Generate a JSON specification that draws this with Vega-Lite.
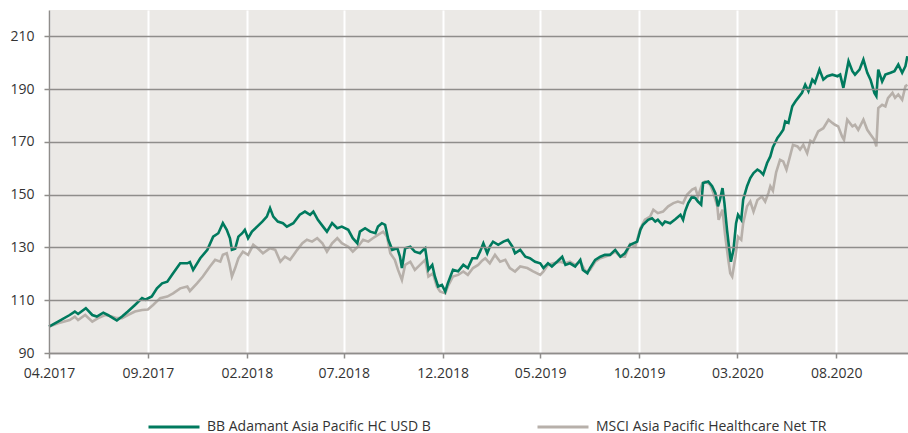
{
  "$schema": "https://vega.github.io/schema/vega-lite/v6.json",
  "width": 859,
  "height": 343,
  "autosize": {"type": "none"},
  "padding": {"left": 49, "top": 10, "right": 0, "bottom": 80},
  "background": "#ffffff",
  "config": {
    "view": {"fill": "#ebe9e6", "stroke": null},
    "font": "Open Sans",
    "axis": {"labelFont": "Open Sans", "labelFontSize": 14, "labelColor": "#333333", "title": null}
  },
  "datasets": {
    "fund": [
      {"d":"2017-04-01","v":100},{"d":"2017-04-15","v":101.9},{"d":"2017-05-03","v":104.4},{"d":"2017-05-11","v":105.7},{"d":"2017-05-16","v":104.8},{"d":"2017-05-28","v":107.0},{"d":"2017-06-07","v":104.4},{"d":"2017-06-14","v":103.8},{"d":"2017-06-24","v":105.3},{"d":"2017-07-01","v":104.4},{"d":"2017-07-09","v":103.2},{"d":"2017-07-15","v":102.3},{"d":"2017-07-23","v":103.8},{"d":"2017-08-01","v":105.7},{"d":"2017-08-12","v":108.2},{"d":"2017-08-23","v":110.8},{"d":"2017-08-28","v":110.2},{"d":"2017-09-07","v":111.4},{"d":"2017-09-15","v":114.5},{"d":"2017-09-23","v":116.4},{"d":"2017-10-01","v":117.0},{"d":"2017-10-10","v":120.2},{"d":"2017-10-21","v":124.0},{"d":"2017-11-01","v":124.0},{"d":"2017-11-05","v":124.5},{"d":"2017-11-10","v":121.5},{"d":"2017-11-21","v":125.9},{"d":"2017-12-02","v":129.1},{"d":"2017-12-11","v":134.1},{"d":"2017-12-19","v":135.4},{"d":"2017-12-26","v":139.2},{"d":"2018-01-01","v":136.7},{"d":"2018-01-06","v":133.5},{"d":"2018-01-09","v":129.1},{"d":"2018-01-14","v":129.5},{"d":"2018-01-19","v":134.1},{"d":"2018-01-25","v":135.4},{"d":"2018-01-29","v":136.7},{"d":"2018-02-03","v":133.5},{"d":"2018-02-09","v":136.0},{"d":"2018-02-17","v":137.9},{"d":"2018-02-25","v":139.8},{"d":"2018-03-04","v":141.7},{"d":"2018-03-09","v":144.9},{"d":"2018-03-14","v":141.7},{"d":"2018-03-21","v":139.8},{"d":"2018-03-29","v":139.2},{"d":"2018-04-04","v":137.9},{"d":"2018-04-14","v":139.2},{"d":"2018-04-24","v":142.4},{"d":"2018-05-02","v":143.6},{"d":"2018-05-10","v":142.4},{"d":"2018-05-15","v":143.6},{"d":"2018-05-22","v":140.5},{"d":"2018-05-30","v":137.9},{"d":"2018-06-05","v":136.0},{"d":"2018-06-13","v":139.2},{"d":"2018-06-21","v":137.3},{"d":"2018-06-28","v":137.9},{"d":"2018-07-08","v":136.7},{"d":"2018-07-15","v":133.5},{"d":"2018-07-22","v":131.6},{"d":"2018-07-26","v":136.0},{"d":"2018-08-03","v":137.3},{"d":"2018-08-11","v":136.0},{"d":"2018-08-19","v":135.4},{"d":"2018-08-23","v":137.9},{"d":"2018-08-29","v":139.2},{"d":"2018-09-03","v":138.6},{"d":"2018-09-08","v":132.9},{"d":"2018-09-14","v":129.1},{"d":"2018-09-22","v":129.7},{"d":"2018-09-26","v":126.5},{"d":"2018-09-29","v":122.2},{"d":"2018-10-04","v":129.7},{"d":"2018-10-12","v":130.3},{"d":"2018-10-19","v":128.4},{"d":"2018-10-27","v":127.8},{"d":"2018-11-01","v":129.1},{"d":"2018-11-04","v":129.7},{"d":"2018-11-09","v":121.5},{"d":"2018-11-15","v":123.4},{"d":"2018-11-19","v":119.0},{"d":"2018-11-24","v":115.2},{"d":"2018-11-30","v":115.8},{"d":"2018-12-05","v":113.3},{"d":"2018-12-09","v":116.4},{"d":"2018-12-17","v":121.5},{"d":"2018-12-25","v":121.0},{"d":"2019-01-02","v":123.4},{"d":"2019-01-09","v":122.2},{"d":"2019-01-16","v":125.9},{"d":"2019-01-23","v":125.9},{"d":"2019-01-28","v":128.5},{"d":"2019-02-02","v":131.6},{"d":"2019-02-08","v":127.8},{"d":"2019-02-12","v":130.3},{"d":"2019-02-17","v":132.2},{"d":"2019-02-25","v":131.0},{"d":"2019-03-05","v":132.2},{"d":"2019-03-12","v":132.9},{"d":"2019-03-19","v":130.3},{"d":"2019-03-23","v":127.8},{"d":"2019-03-31","v":129.1},{"d":"2019-04-08","v":126.5},{"d":"2019-04-15","v":125.9},{"d":"2019-04-23","v":124.6},{"d":"2019-05-01","v":124.0},{"d":"2019-05-06","v":122.2},{"d":"2019-05-13","v":124.0},{"d":"2019-05-19","v":122.8},{"d":"2019-05-27","v":124.6},{"d":"2019-06-04","v":126.5},{"d":"2019-06-09","v":123.4},{"d":"2019-06-16","v":124.0},{"d":"2019-06-24","v":122.8},{"d":"2019-07-02","v":125.3},{"d":"2019-07-06","v":121.5},{"d":"2019-07-13","v":120.2},{"d":"2019-07-17","v":122.2},{"d":"2019-07-25","v":125.3},{"d":"2019-08-02","v":126.5},{"d":"2019-08-09","v":127.2},{"d":"2019-08-17","v":127.2},{"d":"2019-08-25","v":129.1},{"d":"2019-09-02","v":126.5},{"d":"2019-09-09","v":127.8},{"d":"2019-09-17","v":131.0},{"d":"2019-09-28","v":132.2},{"d":"2019-10-03","v":136.7},{"d":"2019-10-07","v":138.6},{"d":"2019-10-15","v":140.5},{"d":"2019-10-21","v":141.1},{"d":"2019-10-26","v":139.8},{"d":"2019-10-30","v":140.5},{"d":"2019-11-06","v":138.6},{"d":"2019-11-10","v":139.8},{"d":"2019-11-18","v":139.2},{"d":"2019-11-26","v":140.7},{"d":"2019-12-04","v":142.4},{"d":"2019-12-08","v":140.5},{"d":"2019-12-11","v":143.6},{"d":"2019-12-16","v":146.8},{"d":"2019-12-22","v":149.3},{"d":"2019-12-27","v":148.7},{"d":"2019-12-31","v":147.4},{"d":"2020-01-05","v":146.2},{"d":"2020-01-08","v":154.4},{"d":"2020-01-16","v":155.0},{"d":"2020-01-22","v":153.2},{"d":"2020-01-27","v":150.6},{"d":"2020-01-31","v":145.6},{"d":"2020-02-03","v":148.0},{"d":"2020-02-07","v":152.5},{"d":"2020-02-10","v":146.8},{"d":"2020-02-14","v":136.7},{"d":"2020-02-17","v":130.3},{"d":"2020-02-20","v":124.6},{"d":"2020-02-24","v":129.1},{"d":"2020-02-28","v":139.2},{"d":"2020-03-02","v":142.4},{"d":"2020-03-07","v":140.5},{"d":"2020-03-10","v":148.1},{"d":"2020-03-16","v":153.2},{"d":"2020-03-21","v":156.3},{"d":"2020-03-26","v":158.2},{"d":"2020-04-01","v":159.5},{"d":"2020-04-05","v":158.9},{"d":"2020-04-10","v":157.6},{"d":"2020-04-16","v":162.0},{"d":"2020-04-21","v":164.5},{"d":"2020-04-25","v":168.0},{"d":"2020-05-02","v":171.5},{"d":"2020-05-06","v":172.8},{"d":"2020-05-11","v":174.6},{"d":"2020-05-14","v":177.8},{"d":"2020-05-19","v":177.2},{"d":"2020-05-25","v":183.5},{"d":"2020-05-30","v":185.4},{"d":"2020-06-03","v":186.7},{"d":"2020-06-09","v":188.6},{"d":"2020-06-14","v":191.7},{"d":"2020-06-19","v":189.2},{"d":"2020-06-25","v":193.6},{"d":"2020-06-29","v":192.4},{"d":"2020-07-06","v":197.4},{"d":"2020-07-12","v":193.6},{"d":"2020-07-18","v":194.9},{"d":"2020-07-26","v":195.5},{"d":"2020-08-03","v":194.9},{"d":"2020-08-07","v":195.5},{"d":"2020-08-12","v":190.5},{"d":"2020-08-20","v":200.6},{"d":"2020-08-26","v":196.8},{"d":"2020-08-30","v":195.5},{"d":"2020-09-06","v":197.4},{"d":"2020-09-12","v":201.2},{"d":"2020-09-18","v":196.2},{"d":"2020-09-23","v":193.6},{"d":"2020-09-29","v":188.6},{"d":"2020-10-02","v":187.4},{"d":"2020-10-05","v":197.4},{"d":"2020-10-11","v":192.9},{"d":"2020-10-16","v":195.5},{"d":"2020-10-24","v":196.2},{"d":"2020-10-30","v":196.8},{"d":"2020-11-05","v":199.3},{"d":"2020-11-11","v":196.2},{"d":"2020-11-16","v":198.7},{"d":"2020-11-19","v":202.5}
    ],
    "index": [
      {"d":"2017-04-01","v":100},{"d":"2017-04-15","v":101.3},{"d":"2017-05-03","v":102.5},{"d":"2017-05-11","v":103.8},{"d":"2017-05-16","v":102.5},{"d":"2017-05-27","v":104.4},{"d":"2017-06-07","v":101.9},{"d":"2017-06-16","v":103.2},{"d":"2017-06-27","v":104.4},{"d":"2017-07-07","v":103.8},{"d":"2017-07-15","v":103.2},{"d":"2017-07-23","v":103.2},{"d":"2017-08-01","v":104.4},{"d":"2017-08-12","v":105.7},{"d":"2017-08-23","v":106.3},{"d":"2017-09-01","v":106.5},{"d":"2017-09-09","v":108.2},{"d":"2017-09-20","v":110.8},{"d":"2017-10-01","v":111.4},{"d":"2017-10-10","v":112.6},{"d":"2017-10-21","v":114.5},{"d":"2017-11-01","v":115.2},{"d":"2017-11-05","v":113.5},{"d":"2017-11-16","v":116.4},{"d":"2017-11-25","v":119.0},{"d":"2017-12-06","v":122.8},{"d":"2017-12-14","v":125.3},{"d":"2017-12-22","v":124.6},{"d":"2017-12-26","v":127.2},{"d":"2018-01-01","v":127.8},{"d":"2018-01-05","v":124.0},{"d":"2018-01-09","v":119.0},{"d":"2018-01-14","v":122.2},{"d":"2018-01-19","v":125.9},{"d":"2018-01-26","v":128.4},{"d":"2018-02-03","v":127.2},{"d":"2018-02-11","v":131.0},{"d":"2018-02-18","v":129.7},{"d":"2018-02-26","v":127.8},{"d":"2018-03-09","v":129.7},{"d":"2018-03-17","v":129.1},{"d":"2018-03-25","v":124.6},{"d":"2018-04-01","v":126.5},{"d":"2018-04-09","v":125.3},{"d":"2018-04-20","v":129.1},{"d":"2018-04-28","v":131.6},{"d":"2018-05-05","v":132.9},{"d":"2018-05-13","v":132.2},{"d":"2018-05-21","v":133.5},{"d":"2018-05-29","v":131.6},{"d":"2018-06-05","v":128.4},{"d":"2018-06-13","v":131.6},{"d":"2018-06-21","v":133.5},{"d":"2018-06-28","v":131.6},{"d":"2018-07-08","v":130.3},{"d":"2018-07-15","v":128.4},{"d":"2018-07-23","v":130.3},{"d":"2018-07-31","v":132.9},{"d":"2018-08-08","v":132.2},{"d":"2018-08-15","v":133.5},{"d":"2018-08-23","v":134.8},{"d":"2018-08-31","v":136.0},{"d":"2018-09-06","v":134.1},{"d":"2018-09-11","v":127.8},{"d":"2018-09-18","v":125.3},{"d":"2018-09-23","v":121.5},{"d":"2018-09-29","v":117.7},{"d":"2018-10-04","v":123.4},{"d":"2018-10-12","v":124.6},{"d":"2018-10-19","v":121.5},{"d":"2018-10-27","v":123.4},{"d":"2018-11-04","v":125.3},{"d":"2018-11-09","v":119.0},{"d":"2018-11-16","v":120.2},{"d":"2018-11-22","v":115.2},{"d":"2018-11-27","v":113.3},{"d":"2018-12-05","v":112.6},{"d":"2018-12-09","v":115.2},{"d":"2018-12-17","v":119.0},{"d":"2018-12-25","v":119.6},{"d":"2019-01-02","v":120.9},{"d":"2019-01-09","v":119.6},{"d":"2019-01-17","v":122.2},{"d":"2019-01-25","v":123.4},{"d":"2019-01-31","v":125.0},{"d":"2019-02-05","v":125.9},{"d":"2019-02-12","v":124.0},{"d":"2019-02-20","v":127.2},{"d":"2019-02-28","v":124.6},{"d":"2019-03-08","v":125.3},{"d":"2019-03-15","v":122.2},{"d":"2019-03-23","v":120.9},{"d":"2019-03-31","v":122.8},{"d":"2019-04-11","v":122.2},{"d":"2019-04-20","v":120.9},{"d":"2019-05-01","v":119.6},{"d":"2019-05-06","v":120.9},{"d":"2019-05-13","v":123.4},{"d":"2019-05-21","v":124.0},{"d":"2019-06-01","v":124.6},{"d":"2019-06-09","v":124.0},{"d":"2019-06-16","v":124.6},{"d":"2019-06-24","v":123.4},{"d":"2019-07-02","v":124.6},{"d":"2019-07-10","v":120.9},{"d":"2019-07-17","v":121.5},{"d":"2019-07-25","v":124.6},{"d":"2019-08-02","v":125.9},{"d":"2019-08-09","v":126.5},{"d":"2019-08-17","v":127.2},{"d":"2019-08-25","v":128.4},{"d":"2019-09-02","v":126.5},{"d":"2019-09-09","v":126.5},{"d":"2019-09-17","v":131.3},{"d":"2019-09-25","v":130.3},{"d":"2019-10-03","v":137.3},{"d":"2019-10-10","v":140.5},{"d":"2019-10-18","v":141.7},{"d":"2019-10-23","v":144.3},{"d":"2019-10-30","v":143.0},{"d":"2019-11-07","v":143.6},{"d":"2019-11-15","v":145.6},{"d":"2019-11-23","v":146.8},{"d":"2019-11-30","v":147.4},{"d":"2019-12-08","v":146.8},{"d":"2019-12-14","v":150.0},{"d":"2019-12-22","v":151.9},{"d":"2019-12-27","v":152.5},{"d":"2019-12-31","v":149.3},{"d":"2020-01-07","v":154.4},{"d":"2020-01-11","v":155.0},{"d":"2020-01-19","v":153.8},{"d":"2020-01-24","v":150.6},{"d":"2020-01-30","v":145.6},{"d":"2020-02-01","v":140.5},{"d":"2020-02-07","v":144.3},{"d":"2020-02-11","v":134.8},{"d":"2020-02-16","v":125.3},{"d":"2020-02-19","v":120.2},{"d":"2020-02-22","v":119.0},{"d":"2020-02-27","v":126.5},{"d":"2020-03-02","v":134.1},{"d":"2020-03-07","v":132.9},{"d":"2020-03-10","v":139.2},{"d":"2020-03-16","v":145.6},{"d":"2020-03-21","v":147.4},{"d":"2020-03-26","v":143.6},{"d":"2020-04-01","v":148.0},{"d":"2020-04-08","v":149.3},{"d":"2020-04-13","v":147.4},{"d":"2020-04-18","v":150.6},{"d":"2020-04-21","v":153.2},{"d":"2020-04-25","v":151.5},{"d":"2020-04-30","v":158.5},{"d":"2020-05-06","v":163.2},{"d":"2020-05-11","v":162.6},{"d":"2020-05-16","v":159.5},{"d":"2020-05-22","v":165.1},{"d":"2020-05-26","v":168.9},{"d":"2020-06-02","v":168.3},{"d":"2020-06-06","v":167.1},{"d":"2020-06-11","v":168.9},{"d":"2020-06-17","v":165.7},{"d":"2020-06-22","v":170.4},{"d":"2020-06-26","v":169.8},{"d":"2020-07-04","v":174.0},{"d":"2020-07-12","v":175.2},{"d":"2020-07-20","v":178.4},{"d":"2020-07-26","v":177.2},{"d":"2020-07-30","v":176.5},{"d":"2020-08-04","v":175.9},{"d":"2020-08-10","v":172.1},{"d":"2020-08-13","v":170.8},{"d":"2020-08-18","v":178.4},{"d":"2020-08-26","v":175.9},{"d":"2020-08-30","v":176.5},{"d":"2020-09-04","v":174.6},{"d":"2020-09-12","v":178.4},{"d":"2020-09-18","v":174.6},{"d":"2020-09-23","v":172.8},{"d":"2020-09-29","v":170.8},{"d":"2020-10-02","v":168.3},{"d":"2020-10-05","v":182.8},{"d":"2020-10-11","v":184.1},{"d":"2020-10-16","v":183.5},{"d":"2020-10-20","v":186.6},{"d":"2020-10-27","v":188.6},{"d":"2020-10-31","v":186.7},{"d":"2020-11-05","v":188.0},{"d":"2020-11-11","v":186.0},{"d":"2020-11-16","v":191.1},{"d":"2020-11-19","v":191.7}
    ]
  },
  "encoding": {
    "x": {
      "field": "d", "type": "temporal",
      "scale": {"type": "utc", "domain": [{"year": 2017, "month": 4, "date": 1, "utc": true}, {"year": 2020, "month": 11, "date": 20, "utc": true}]},
      "axis": {
        "values": [
          {"year": 2017, "month": 4, "date": 1, "utc": true},
          {"year": 2017, "month": 9, "date": 1, "utc": true},
          {"year": 2018, "month": 2, "date": 1, "utc": true},
          {"year": 2018, "month": 7, "date": 1, "utc": true},
          {"year": 2018, "month": 12, "date": 1, "utc": true},
          {"year": 2019, "month": 5, "date": 1, "utc": true},
          {"year": 2019, "month": 10, "date": 1, "utc": true},
          {"year": 2020, "month": 3, "date": 1, "utc": true},
          {"year": 2020, "month": 8, "date": 1, "utc": true}
        ],
        "format": "%m.%Y", "labelFlush": false, "labelOverlap": false,
        "grid": true, "gridColor": "#ffffff", "gridWidth": 2, "gridOpacity": 1,
        "domain": true, "domainColor": "#8f8d8b", "domainWidth": 1.5,
        "ticks": true, "tickColor": "#8f8d8b", "tickSize": 5, "tickWidth": 1.5,
        "labelPadding": 8
      }
    },
    "y": {
      "field": "v", "type": "quantitative",
      "scale": {"domain": [90, 220], "nice": false, "zero": false},
      "axis": {
        "values": [90, 110, 130, 150, 170, 190, 210],
        "grid": true, "gridColor": "#8f8d8b", "gridWidth": 1.5, "gridOpacity": 1,
        "domain": true, "domainColor": "#8f8d8b", "domainWidth": 1.5,
        "ticks": true, "tickColor": "#8f8d8b", "tickSize": 5, "tickWidth": 1.5,
        "labelPadding": 10, "zindex": 1
      }
    }
  },
  "layer": [
    {
      "data": {"name": "index"},
      "mark": {"type": "line", "strokeWidth": 2.6},
      "encoding": {
        "color": {"datum": "MSCI Asia Pacific Healthcare Net TR", "type": "nominal",
          "scale": {"domain": ["BB Adamant Asia Pacific HC USD B", "MSCI Asia Pacific Healthcare Net TR"], "range": ["#007a5e", "#b7b0aa"]},
          "legend": {
            "orient": "none", "legendX": 115, "legendY": 407, "direction": "horizontal",
            "symbolType": "M-3,0L3,0", "symbolSize": 289, "symbolStrokeWidth": 3,
            "labelFont": "Open Sans", "labelFontSize": 14, "labelColor": "#333333",
            "labelOffset": 23, "labelLimit": 400, "columnPadding": 100, "title": null, "padding": 0
          }}
      }
    },
    {
      "data": {"name": "fund"},
      "mark": {"type": "line", "strokeWidth": 2.6},
      "encoding": {
        "color": {"datum": "BB Adamant Asia Pacific HC USD B", "type": "nominal",
          "scale": {"domain": ["BB Adamant Asia Pacific HC USD B", "MSCI Asia Pacific Healthcare Net TR"], "range": ["#007a5e", "#b7b0aa"]}}
      }
    }
  ]
}
